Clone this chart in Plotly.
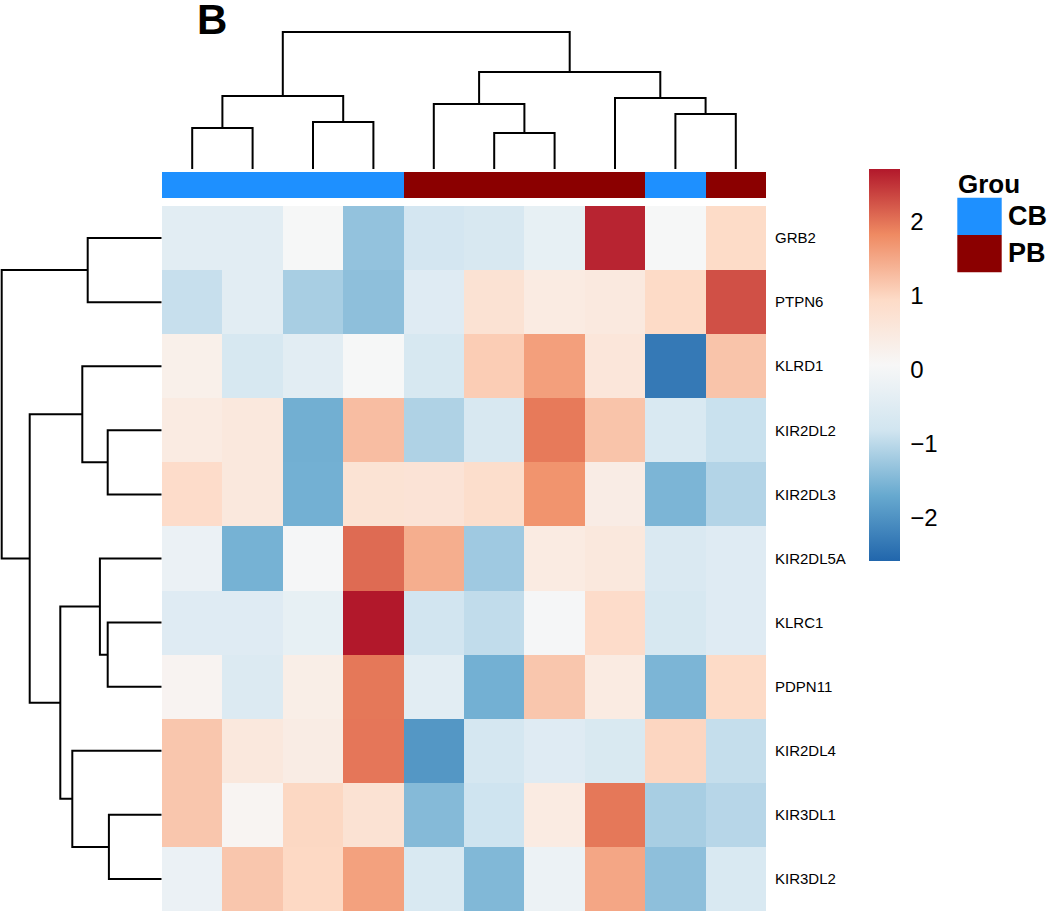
import plotly.graph_objects as go

W, H = 1050, 911

# ---- data ----
genes = ["GRB2", "PTPN6", "KLRD1", "KIR2DL2", "KIR2DL3", "KIR2DL5A",
         "KLRC1", "PDPN11", "KIR2DL4", "KIR3DL1", "KIR3DL2"]

groups = ["CB", "CB", "CB", "CB", "PB", "PB", "PB", "PB", "CB", "PB"]

# row-scaled expression, rows in display order, columns in display order
values = [
    [-0.42, -0.42, 0.05, -1.33, -0.75, -0.65, -0.30, 2.62, 0.05, 0.93],
    [-0.90, -0.42, -1.16, -1.37, -0.50, 0.72, 0.45, 0.50, 0.95, 2.28],
    [0.30, -0.67, -0.42, 0.05, -0.67, 1.10, 1.60, 0.60, -2.33, 1.20],
    [0.45, 0.55, -1.61, 1.27, -1.10, -0.65, 1.95, 1.20, -0.62, -0.88],
    [0.90, 0.55, -1.60, 0.70, 0.68, 0.85, 1.72, 0.40, -1.52, -1.07],
    [-0.22, -1.57, 0.02, 2.07, 1.44, -1.23, 0.45, 0.55, -0.60, -0.50],
    [-0.50, -0.50, -0.30, 2.71, -0.80, -0.95, 0.02, 0.90, -0.67, -0.50],
    [0.18, -0.55, 0.35, 1.97, -0.42, -1.60, 1.17, 0.45, -1.52, 0.95],
    [1.17, 0.55, 0.42, 1.98, -1.94, -0.73, -0.50, -0.63, 1.00, -0.92],
    [1.17, 0.15, 0.98, 0.72, -1.45, -0.83, 0.45, 1.97, -1.16, -1.03],
    [-0.22, 1.17, 0.97, 1.58, -0.62, -1.48, -0.20, 1.52, -1.37, -0.62],
]
z_min, z_max = -2.58, 2.71

# column clustering: (child a, child b, height); new node ids start after leaves
col_merges = [
    (0, 1, 1.80), (2, 3, 2.06), (10, 11, 3.20), (5, 6, 1.58), (4, 13, 2.85),
    (8, 9, 2.41), (7, 15, 3.11), (14, 16, 4.25), (12, 17, 6.00),
]
# row clustering
row_merges = [
    (0, 1, 3.70), (3, 4, 2.70), (2, 12, 3.97), (6, 7, 2.70), (5, 14, 3.09),
    (9, 10, 2.64), (8, 16, 4.47), (15, 17, 5.07), (13, 18, 6.60), (11, 19, 8.00),
]

rdbu = ["#2166AC", "#67A9CF", "#D1E5F0", "#F7F7F7", "#FDDBC7", "#EF8A62", "#B2182B"]
group_colors = {"CB": "#1E90FF", "PB": "#8B0000"}


def dendro_segments(n_leaves, merges):
    """Return x(pos) / y(height) lists with None breaks, elbow style."""
    pos = {i: float(i) for i in range(n_leaves)}
    hgt = {i: 0.0 for i in range(n_leaves)}
    ps, hs = [], []
    for k, (a, b, h) in enumerate(merges):
        node = n_leaves + k
        ps += [pos[a], pos[a], pos[b], pos[b], None]
        hs += [hgt[a], h, h, hgt[b], None]
        pos[node] = (pos[a] + pos[b]) / 2
        hgt[node] = h
    return ps, hs


def px_x(v):
    return v / W


def px_y(v):
    return 1 - v / H


fig = go.Figure()

# main heatmap
n_rows, n_cols = len(genes), len(groups)
fig.add_trace(go.Heatmap(
    z=values,
    x=list(range(n_cols)),
    y=list(range(n_rows)),
    colorscale=[[i / 6, c] for i, c in enumerate(rdbu)],
    zmin=z_min, zmax=z_max,
    xaxis="x", yaxis="y",
    hovertemplate="%{text}<extra></extra>",
    text=[[f"{g}: {v:.2f}" for v in row] for g, row in zip(genes, values)],
    colorbar=dict(
        x=px_x(869), xanchor="left", xpad=0,
        y=px_y(169), yanchor="top", ypad=0,
        len=392 / H, lenmode="fraction",
        thickness=31, thicknessmode="pixels",
        outlinewidth=0,
        ticks="outside", ticklen=6, tickcolor="rgba(0,0,0,0)",
        tickvals=[-2, -1, 0, 1, 2],
        ticktext=["\u22122", "\u22121", "0", "1", "2"],
        tickfont=dict(size=24, color="black"),
    ),
))

# group annotation bar
grp_codes = [0 if g == "CB" else 1 for g in groups]
fig.add_trace(go.Heatmap(
    z=[grp_codes],
    x=list(range(n_cols)),
    colorscale=[[0, group_colors["CB"]], [0.5, group_colors["CB"]],
                [0.5, group_colors["PB"]], [1, group_colors["PB"]]],
    zmin=0, zmax=1, showscale=False,
    xaxis="x2", yaxis="y2",
    text=[groups], hovertemplate="%{text}<extra></extra>",
))

# column dendrogram
cx, cy = dendro_segments(n_cols, col_merges)
fig.add_trace(go.Scatter(
    x=cx, y=cy, mode="lines", line=dict(color="black", width=2),
    xaxis="x3", yaxis="y3", hoverinfo="skip", showlegend=False,
))

# row dendrogram
ry, rx = dendro_segments(n_rows, row_merges)
fig.add_trace(go.Scatter(
    x=rx, y=ry, mode="lines", line=dict(color="black", width=2),
    xaxis="x4", yaxis="y4", hoverinfo="skip", showlegend=False,
))

hm_x = [px_x(162), px_x(766)]
hm_y = [px_y(911), px_y(206)]
col_root = col_merges[-1][2]
row_root = row_merges[-1][2]
hidden = dict(showticklabels=False, showgrid=False, zeroline=False, ticks="")

fig.update_layout(
    width=W, height=H,
    margin=dict(l=0, r=0, t=0, b=0),
    paper_bgcolor="white", plot_bgcolor="white",
    font=dict(family="Liberation Sans, Arial, sans-serif", color="black"),
    showlegend=False,
    xaxis=dict(domain=hm_x, range=[-0.5, n_cols - 0.5], **hidden),
    yaxis=dict(domain=hm_y, range=[n_rows - 0.5, -0.5], side="right",
               tickvals=list(range(n_rows)), ticktext=genes,
               showgrid=False, zeroline=False, ticks="",
               ticklabelstandoff=8, tickfont=dict(size=15, color="black")),
    xaxis2=dict(domain=hm_x, range=[-0.5, n_cols - 0.5], anchor="y2", **hidden),
    yaxis2=dict(domain=[px_y(198), px_y(172)], range=[-0.5, 0.5], anchor="x2", **hidden),
    xaxis3=dict(domain=hm_x, range=[-0.5, n_cols - 0.5], anchor="y3", **hidden),
    yaxis3=dict(domain=[px_y(169), px_y(20)],
                range=[0, col_root * (169 - 20) / (169 - 32)], anchor="x3", **hidden),
    xaxis4=dict(domain=[0, px_x(161.7)],
                range=[row_root * 161.7 / 160, 0], anchor="y4", **hidden),
    yaxis4=dict(domain=hm_y, range=[n_rows - 0.5, -0.5], anchor="x4", **hidden),
)

# group legend
fig.add_annotation(x=px_x(956), y=px_y(184), xref="paper", yref="paper",
                   xanchor="left", yanchor="middle", showarrow=False,
                   text="<b>Grou</b>", font=dict(size=26))
for i, g in enumerate(["CB", "PB"]):
    top = 197.7 + i * 37.3
    fig.add_shape(type="rect", xref="paper", yref="paper",
                  x0=px_x(957.3), x1=px_x(1001.7), y0=px_y(top), y1=px_y(top + 37.3),
                  fillcolor=group_colors[g], line=dict(width=0))
    fig.add_annotation(x=px_x(1006), y=px_y(top + 18.5), xref="paper", yref="paper",
                       xanchor="left", yanchor="middle", showarrow=False,
                       text=f"<b>{g}</b>", font=dict(size=27))

# panel letter
fig.add_annotation(x=px_x(195), y=px_y(20), xref="paper", yref="paper",
                   xanchor="left", yanchor="middle", showarrow=False,
                   text="<b>B</b>", font=dict(size=42))

fig.write_html("out.html", config={"displayModeBar": False},
               post_script="document.body.style.margin='0px';")
